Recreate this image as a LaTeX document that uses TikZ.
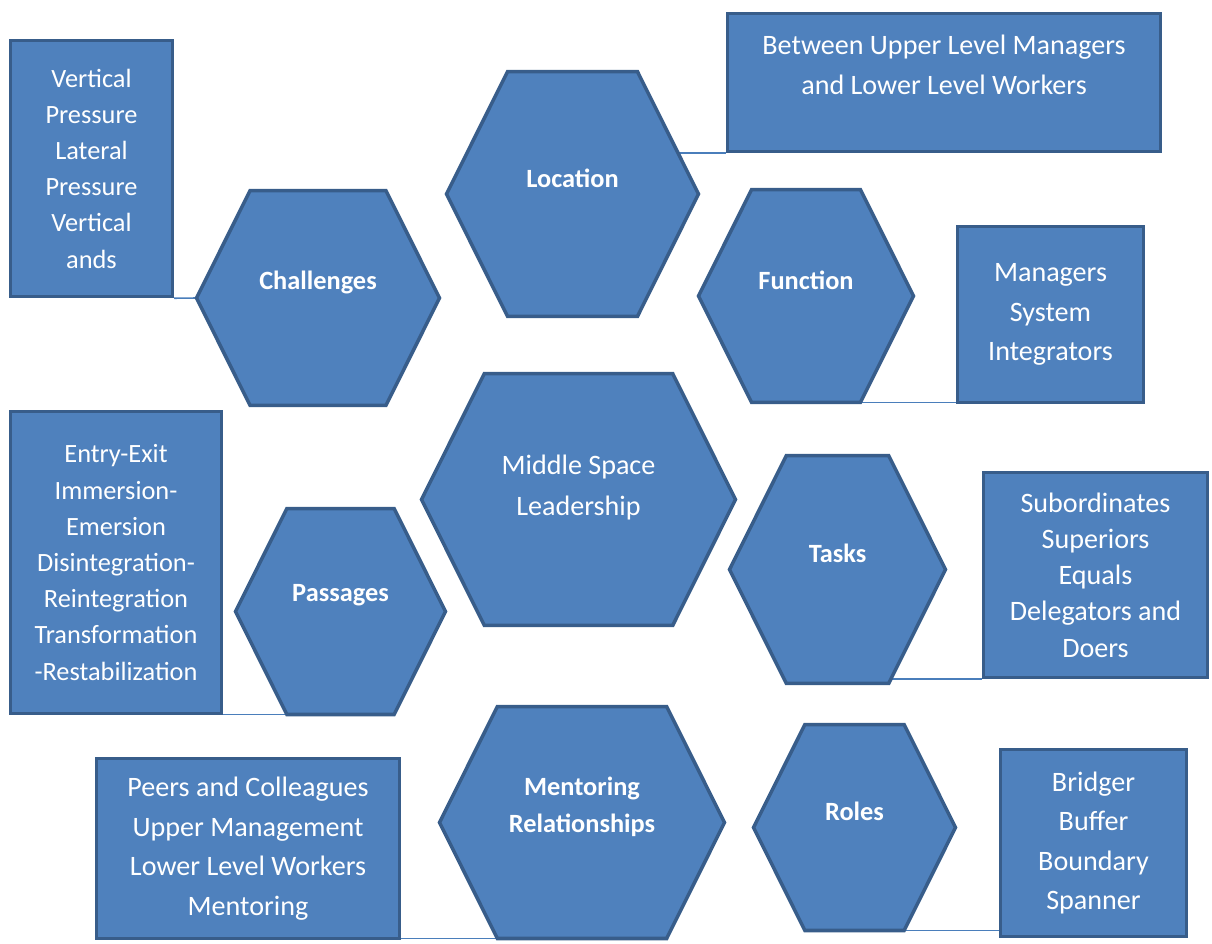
\documentclass[tikz,border=0pt]{standalone}
\usepackage{fontspec}
\setmainfont{Carlito}
\usetikzlibrary{shapes.symbols,backgrounds}
\definecolor{hexfill}{HTML}{4F81BD}
\definecolor{hexline}{HTML}{385D8A}
\definecolor{linkline}{HTML}{4A7EBB}

\begin{document}
\begin{tikzpicture}[x = 0.02cm, y = -0.02cm,
                        hexa/.style = {signal, signal to = east and west, signal pointer angle = 127,
                                       draw = hexline, fill = hexfill, line width = 2pt,
                                       inner sep = 0pt, outer sep = 0pt},
                        hexname/.style = {text = white, yshift = 0.32cm, align = center,
                                          font = \fontsize{15}{21}\selectfont\bfseries},
                        info/.style = {rectangle, draw = hexline, fill = hexfill, line width = 2pt,
                                       text = white, align = center, inner sep = 0pt,
                                       font = \fontsize{16}{22.5}\selectfont},
                        tight/.style = {font = \fontsize{15}{20.6}\selectfont},
                        link/.style = {draw = linkline, line width = 0.9pt}]
    \useasboundingbox (0, 0) rectangle (1212, 943);
    % hexagons
    \node [hexa, minimum width = 4.86cm, minimum height = 4.30cm,
           label = {[hexname]center:Challenges}] (chal) at (318, 298){};
    \node [hexa, minimum width = 5.04cm, minimum height = 4.90cm,
           label = {[hexname]center:Location}] (loc) at (572.5, 194){};
    \node [hexa, minimum width = 4.30cm, minimum height = 4.26cm,
           label = {[hexname]center:Function}] (func) at (806, 296){};
    \node [hexa, minimum width = 6.28cm, minimum height = 5.04cm,
           label = {[hexname, yshift = -0.08cm, font = \fontsize{16}{22.8}\selectfont]center:Middle Space\\Leadership}] (mid) at (578.5, 499.5){};
    \node [hexa, minimum width = 4.32cm, minimum height = 4.56cm,
           label = {[hexname]center:Tasks}] (task) at (837.5, 569.5){};
    \node [hexa, minimum width = 4.20cm, minimum height = 4.12cm,
           label = {[hexname]center:Passages}] (pass) at (340.5, 611.5){};
    \node [hexa, minimum width = 5.70cm, minimum height = 4.64cm,
           label = {[hexname]center:Mentoring\\Relationships}] (ment) at (582, 822.5){};
    \node [hexa, minimum width = 4.04cm, minimum height = 4.12cm,
           label = {[hexname]center:Roles}] (role) at (854.5, 827.5){};
    % boxes
    \node [info, minimum width = 8.66cm, minimum height = 2.76cm, text depth = 0.72cm] (locbox) at (944, 82.5)
          {Between Upper Level Managers\\and Lower Level Workers};
    \node [info, tight, minimum width = 3.24cm, minimum height = 5.12cm] (chalbox) at (91.5, 168.5)
          {Vertical\\Pressure\\Lateral\\Pressure\\Vertical\\ands};
    \node [info, minimum width = 3.72cm, minimum height = 3.52cm] (funcbox) at (1050.5, 314.5)
          {Managers\\System\\Integrators};
    \node [info, font = \fontsize{16}{20.6}\selectfont, minimum width = 4.48cm, minimum height = 4.10cm] (taskbox) at (1095.5, 575)
          {Subordinates\\Superiors\\Equals\\Delegators and\\Doers};
    \node [info, tight, minimum width = 4.22cm, minimum height = 6.04cm] (passbox) at (116, 562.5)
          {Entry-Exit\\Immersion-\\Emersion\\Disintegration-\\Reintegration\\Transformation\\-Restabilization};
    \node [info, minimum width = 6.06cm, minimum height = 3.60cm] (mentbox) at (248, 848.5)
          {Peers and Colleagues\\Upper Management\\Lower Level Workers\\Mentoring};
    \node [info, minimum width = 3.72cm, minimum height = 3.74cm] (rolebox) at (1093.5, 843)
          {Bridger\\Buffer\\Boundary\\Spanner};
    % connectors
    \begin{scope}[on background layer]
      \draw [link] (chalbox.south east) -- (chal.west);
      \draw [link] (locbox.south west) -- (locbox.south west -| loc.center);
      \draw [link] (funcbox.west |- func.south) -- (func.south);
      \draw [link] (taskbox.south west) -- (taskbox.south west -| task.center);
      \draw [link] (passbox.east |- pass.south) -- (pass.south);
      \draw [link] (mentbox.east |- ment.south) -- (ment.south);
      \draw [link] (rolebox.west |- role.south) -- (role.south);
    \end{scope}
  \end{tikzpicture}
\end{document}
